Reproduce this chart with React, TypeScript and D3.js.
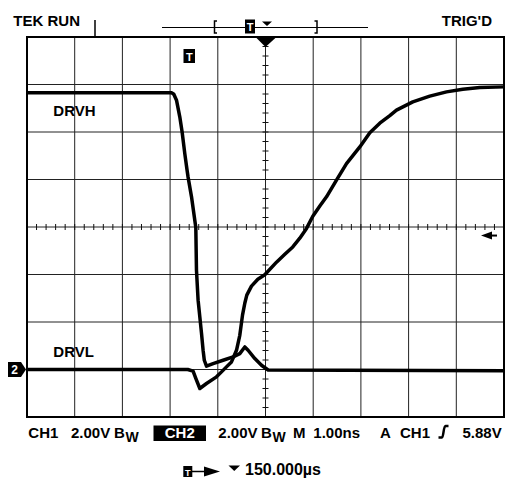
import React from "react";
import * as d3 from "d3";

// Time in ns (M 1.00ns/div, trigger at centre), voltage in V (2.00V/div, ground at marker "2")
const drvhT = [-5.0, -1.964, -1.922, -1.866, -1.797, -1.748, -1.692, -1.644, -1.623, -1.551, -1.461, -1.447, -1.413, -1.342, -1.308, -1.283, -1.237, -1.099, -0.889, -0.679, -0.539, -0.434, -0.365, -0.224, -0.084, 0.055, 5.0];
const drvhV = [11.65, 11.65, 11.59, 11.34, 10.64, 10.0, 9.09, 8.39, 8.1, 7.27, 5.98, 4.18, 2.92, 1.53, 0.81, 0.39, 0.14, 0.25, 0.39, 0.53, 0.67, 0.95, 0.81, 0.46, 0.18, -0.02, -0.05];

const drvlT = [-5.0, -1.629, -1.518, -1.461, -1.377, -1.237, -1.027, -0.922, -0.818, -0.713, -0.608, -0.539, -0.482, -0.434, -0.392, -0.294, -0.161, -0.015, 0.231, 0.405, 0.572, 0.719, 0.86, 0.992, 1.139, 1.279, 1.488, 1.698, 1.977, 2.187, 2.396, 2.606, 2.746, 3.088, 3.444, 3.795, 4.136, 4.493, 5.0];
const drvlV = [0.0, 0.0, -0.07, -0.37, -0.8, -0.59, -0.31, -0.1, 0.11, 0.32, 0.81, 1.44, 2.29, 2.79, 3.13, 3.51, 3.8, 3.99, 4.52, 4.85, 5.16, 5.53, 5.94, 6.45, 6.88, 7.27, 7.97, 8.67, 9.37, 9.97, 10.37, 10.69, 10.92, 11.27, 11.51, 11.69, 11.8, 11.87, 11.9];

const timeDivs = [-5, -4, -3, -2, -1, 0, 1, 2, 3, 4, 5];
const voltDivs = [-2, 0, 2, 4, 6, 8, 10, 12, 14];
const triggerLevel = 5.64;

const FONT = "'Liberation Sans', Arial, Helvetica, sans-serif";

export default function App() {
  const x = d3.scaleLinear().domain([-5, 5]).range([27, 504]);
  const y = d3.scaleLinear().domain([-2, 14]).range([417, 37]);
  const line = d3
    .line<[number, number]>()
    .x((d) => x(d[0]))
    .y((d) => y(d[1]))
    .curve(d3.curveLinear);
  const drvh = drvhT.map((t, i) => [t, drvhV[i]] as [number, number]);
  const drvl = drvlT.map((t, i) => [t, drvlV[i]] as [number, number]);

  const cx = x(0);
  const cy = y(6);
  const minorT = d3.range(-5, 5.0001, 0.2);
  const minorV = d3.range(-2, 14.0001, 0.4);
  const gy = y(0);
  const ty = y(triggerLevel);

  const txt = {
    fontFamily: FONT,
    fontWeight: "bold" as const,
    fontSize: 15,
    fill: "#000",
  };

  return (
    <svg
      width={508}
      height={479}
      style={{ position: "absolute", left: 0, top: 0, background: "#fff" }}
    >
      <rect x={0} y={0} width={508} height={479} fill="#fff" />
      {/* grid */}
      {timeDivs.slice(1, -1).map((t) => (
        <line key={"v" + t} x1={x(t)} x2={x(t)} y1={y(14)} y2={y(-2)} stroke="#222" strokeWidth={1} />
      ))}
      {voltDivs.slice(1, -1).map((v) => (
        <line key={"h" + v} x1={x(-5)} x2={x(5)} y1={y(v)} y2={y(v)} stroke="#222" strokeWidth={1} />
      ))}
      {minorT.map((t, i) => (
        <line key={"mt" + i} x1={x(t)} x2={x(t)} y1={cy - 3} y2={cy + 3} stroke="#111" strokeWidth={1} />
      ))}
      {minorV.map((v, i) => (
        <line key={"mv" + i} x1={cx - 3} x2={cx + 3} y1={y(v)} y2={y(v)} stroke="#111" strokeWidth={1} />
      ))}
      <rect x={x(-5)} y={y(14)} width={x(5) - x(-5)} height={y(-2) - y(14)} fill="none" stroke="#000" strokeWidth={2} />

      {/* traces */}
      <path d={line(drvh) || ""} fill="none" stroke="#000" strokeWidth={3.5} strokeLinejoin="round" />
      <path d={line(drvl) || ""} fill="none" stroke="#000" strokeWidth={3.5} strokeLinejoin="round" />

      {/* trigger marker on top */}
      <polygon points={`${cx - 10},37 ${cx + 11},37 ${cx},47`} fill="#000" />
      <rect x={183.5} y={49} width={11.5} height={14} fill="#000" />
      <text x={189.25} y={60.5} textAnchor="middle" style={{ ...txt, fontSize: 11, fill: "#fff" }}>T</text>

      {/* right trigger level arrow */}
      <polygon points={`481,${ty} 492,${ty - 4} 492,${ty + 4}`} fill="#000" />
      <line x1={491} x2={497} y1={ty} y2={ty} stroke="#000" strokeWidth={2} />

      {/* channel 2 ground marker */}
      <polygon points={`8,${gy - 7.5} 21,${gy - 7.5} 26,${gy} 21,${gy + 7.5} 8,${gy + 7.5}`} fill="#000" />
      <text x={14.5} y={gy + 4.5} textAnchor="middle" style={{ ...txt, fontSize: 12, fill: "#fff" }}>2</text>

      {/* labels */}
      <text x={53.3} y={116} style={txt}>DRVH</text>
      <text x={53.3} y={357} style={txt}>DRVL</text>

      {/* header */}
      <text x={13.3} y={26} style={txt}>TEK RUN</text>
      <line x1={95} x2={95} y1={20} y2={37} stroke="#000" strokeWidth={1.5} />
      <text x={492} y={26} textAnchor="end" style={txt}>TRIG'D</text>
      <line x1={162} x2={368} y1={27.5} y2={27.5} stroke="#000" strokeWidth={1} />
      <path d="M217,21 L214.5,21 L214.5,33 L217,33" fill="none" stroke="#000" strokeWidth={1.5} />
      <path d="M314.5,21 L317,21 L317,33 L314.5,33" fill="none" stroke="#000" strokeWidth={1.5} />
      <rect x={245} y={19.5} width={10} height={14} fill="#000" />
      <text x={250} y={31} textAnchor="middle" style={{ ...txt, fontSize: 11, fill: "#fff" }}>T</text>
      <polygon points="262,21.5 272,21.5 267,26" fill="#000" />

      {/* footer line 1 */}
      <text x={28.3} y={437.5} style={txt}>CH1</text>
      <text x={71} y={437.5} style={txt}>2.00V</text>
      <text x={114} y={437.5} style={txt}>B</text>
      <text x={125.5} y={442} style={{ ...txt, fontSize: 14 }}>W</text>
      <rect x={153.5} y={425.5} width={52.5} height={15.5} fill="#000" />
      <text x={179.75} y={437.5} textAnchor="middle" style={{ ...txt, fill: "#fff" }}>CH2</text>
      <text x={218.3} y={437.5} style={txt}>2.00V</text>
      <text x={261} y={437.5} style={txt}>B</text>
      <text x={272.5} y={442} style={{ ...txt, fontSize: 14 }}>W</text>
      <text x={293} y={437.5} style={txt}>M</text>
      <text x={313.3} y={437.5} style={txt}>1.00ns</text>
      <text x={380} y={437.5} style={txt}>A</text>
      <text x={400} y={437.5} style={txt}>CH1</text>
      <path d="M438.5,437.5 L442,437.5 C443.5,437.5 443.5,426 445.5,426 L448.5,426" fill="none" stroke="#000" strokeWidth={2.5} />
      <text x={501.7} y={437.5} textAnchor="end" style={txt}>5.88V</text>

      {/* footer line 2 */}
      <rect x={183.3} y={466} width={9} height={11} fill="#000" />
      <text x={187.8} y={475.5} textAnchor="middle" style={{ ...txt, fontSize: 9, fill: "#fff" }}>T</text>
      <line x1={192} x2={206} y1={471.5} y2={471.5} stroke="#000" strokeWidth={1.5} />
      <polygon points="204,466.5 220,471.5 204,476.5" fill="#000" />
      <polygon points="228.5,465.5 240,465.5 234.25,471" fill="#000" />
      <text x={245} y={474.5} style={{ ...txt, fontSize: 16 }}>150.000µs</text>
    </svg>
  );
}
